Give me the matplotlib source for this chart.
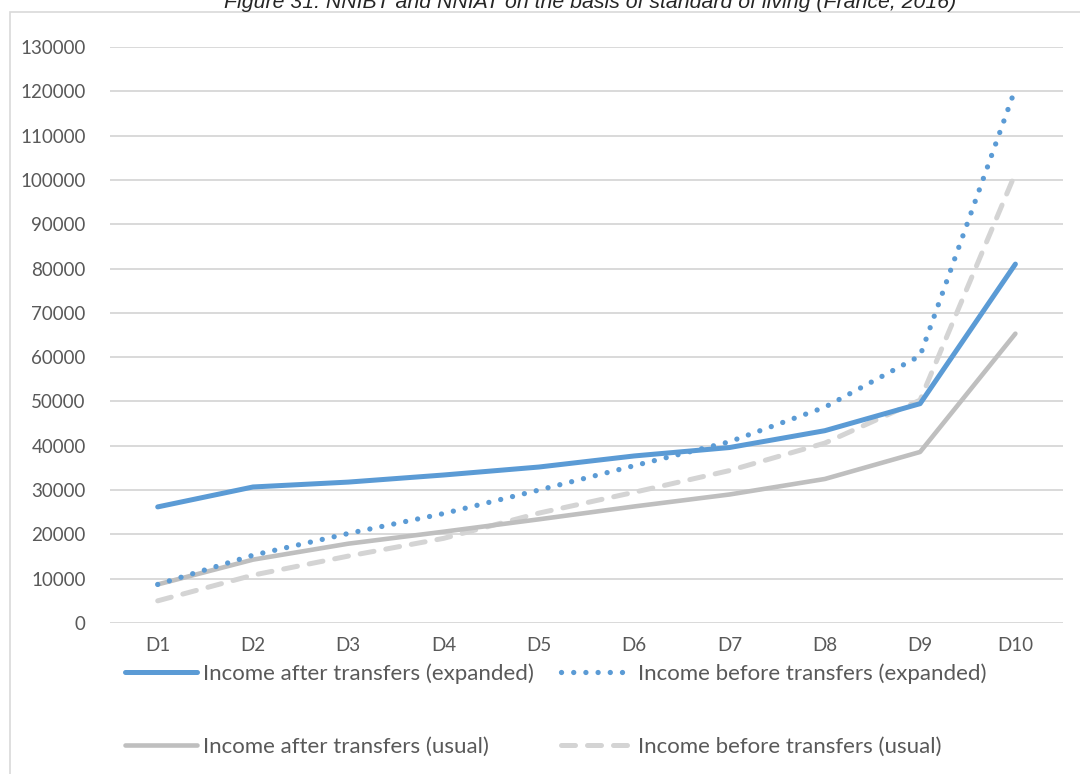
import matplotlib.pyplot as plt
from matplotlib.patches import Rectangle

deciles = ['D1', 'D2', 'D3', 'D4', 'D5', 'D6', 'D7', 'D8', 'D9', 'D10']

after_expanded = [26200, 30700, 31800, 33400, 35200, 37700, 39600, 43400, 49500, 81000]
before_expanded = [8700, 15300, 20200, 24700, 30000, 35500, 40900, 48700, 60300, 120600]
after_usual = [8700, 14300, 17900, 20600, 23400, 26300, 29000, 32500, 38600, 65300]
before_usual = [5000, 10800, 15100, 19100, 24800, 29500, 34400, 40600, 50300, 101500]

title = 'Figure 31: NNIBT and NNIAT on the basis of standard of living (France, 2016)'

blue = '#5B9BD5'
grey = '#BFBFBF'
light_grey = '#D4D4D4'
text_col = '#595959'

plt.rcParams['font.family'] = ['Lato', 'DejaVu Sans']

fig = plt.figure(figsize=(10.8, 7.74), dpi=100)
ax = fig.add_axes([0.1019, 0.1951, 0.8824, 0.7442])

# chart frame, runs off the right and bottom edges
fig.patches.append(Rectangle((9.5 / 1080, -0.05), 1.2, 1 - 12 / 774 + 0.05,
                             transform=fig.transFigure, fill=False,
                             edgecolor='#D9D9D9', lw=1.2, clip_on=False))

fig.text(0.546, 1 - 3 / 774, title, ha='center', va='center', fontsize=15.3,
         style='italic', family='Liberation Sans', color='#262626')

x = list(range(len(deciles)))

l1, = ax.plot(x, after_expanded, color=blue, lw=3.6, solid_capstyle='round',
              solid_joinstyle='round', label='Income after transfers (expanded)', zorder=4)
l2, = ax.plot(x, after_usual, color=grey, lw=3.3, solid_capstyle='round',
              solid_joinstyle='round', label='Income after transfers (usual)', zorder=3)
l3, = ax.plot(x, before_expanded, color=blue, lw=3.8, dashes=(0.01, 2.3),
              dash_capstyle='round', label='Income before transfers (expanded)', zorder=5)
l4, = ax.plot(x, before_usual, color=light_grey, lw=3.6, dashes=(2.8, 2.4),
              dash_capstyle='round', label='Income before transfers (usual)', zorder=2)

ax.set_xlim(-0.5, len(deciles) - 0.5)
ax.set_ylim(0, 130000)
ax.set_yticks(range(0, 130001, 10000))
ax.set_xticks(x)
ax.set_xticklabels(deciles)

ax.grid(axis='y', color='#D9D9D9', lw=1.4)
ax.set_axisbelow(True)
for s in ax.spines.values():
    s.set_visible(False)
ax.tick_params(length=0, labelsize=13.5, colors=text_col)
ax.tick_params(axis='y', pad=17.5)
ax.tick_params(axis='x', pad=10)

fig.legend(handles=[l1, l2, l3, l4], ncol=2, loc='center',
           bbox_to_anchor=(0.515, 1 - 710 / 774), frameon=False,
           fontsize=16, labelcolor=text_col, handlelength=3.2,
           handletextpad=0.3, columnspacing=1.2, labelspacing=2.4)

fig.savefig('out.png', dpi=100)
